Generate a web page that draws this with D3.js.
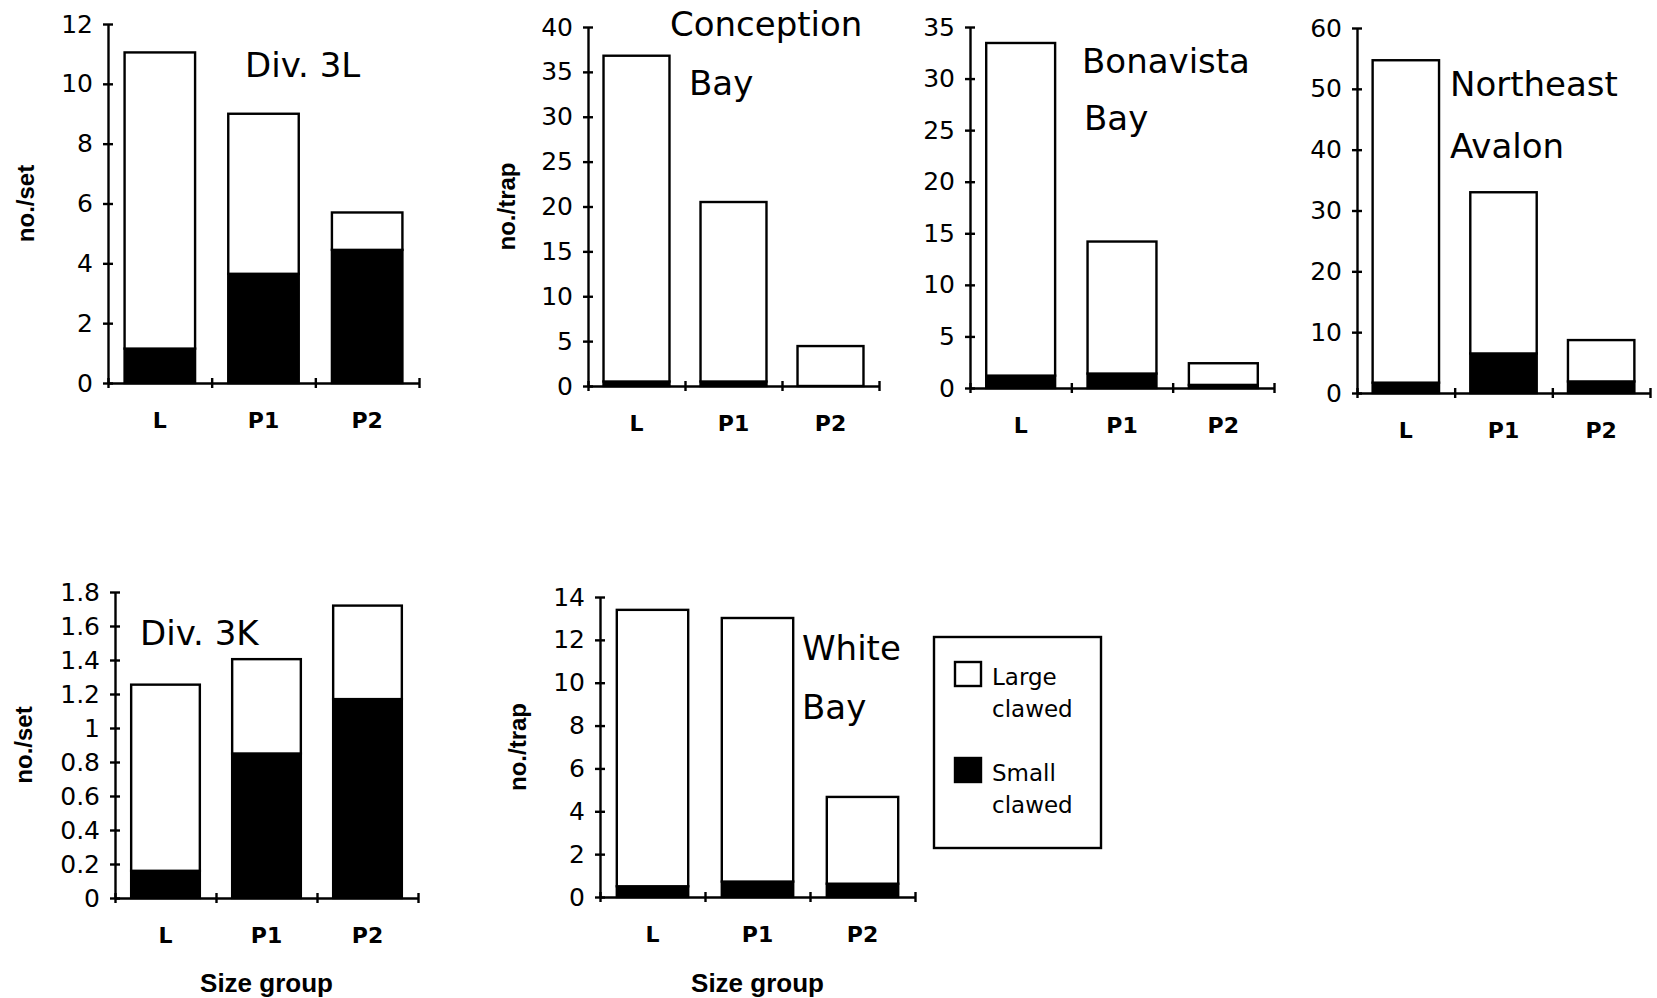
<!DOCTYPE html>
<html>
<head>
<meta charset="utf-8">
<script src="https://cdn.jsdelivr.net/npm/d3@7"></script>
<style>
  body { margin: 0; background: #fff; }
</style>
</head>
<body>
<div id="chart"></div>
<script>
// size groups on every x axis
const sizeGroups = ["L", "P1", "P2"];

// small clawed (black) and large clawed (white, stacked on top) per panel
const div3LSmall = [1.15, 3.65, 4.45];
const div3LLarge = [9.9, 5.35, 1.25];
const conceptionSmall = [0.5, 0.5, 0];
const conceptionLarge = [36.3, 20.0, 4.45];
const bonavistaSmall = [1.2, 1.4, 0.3];
const bonavistaLarge = [32.25, 12.8, 2.1];
const avalonSmall = [1.7, 6.5, 1.9];
const avalonLarge = [53.0, 26.5, 6.8];
const div3KSmall = [0.16, 0.85, 1.17];
const div3KLarge = [1.095, 0.555, 0.55];
const whiteBaySmall = [0.5, 0.72, 0.62];
const whiteBayLarge = [12.9, 12.3, 4.05];

// tick labels
const div3LTicks = [0, 2, 4, 6, 8, 10, 12];
const conceptionTicks = [0, 5, 10, 15, 20, 25, 30, 35, 40];
const bonavistaTicks = [0, 5, 10, 15, 20, 25, 30, 35];
const avalonTicks = [0, 10, 20, 30, 40, 50, 60];
const div3KTicks = [0, 0.2, 0.4, 0.6, 0.8, 1, 1.2, 1.4, 1.6, 1.8];
const whiteBayTicks = [0, 2, 4, 6, 8, 10, 12, 14];

const legendLabels = [["Large", "clawed"], ["Small", "clawed"]];

const panels = [
  { small: div3LSmall, large: div3LLarge, ticks: div3LTicks, title: ["Div. 3L"],
    left: 108, right: 419, top: 24, bottom: 383,
    titleX: 245, titleY: 77, yLabel: "no./set", yLabelX: 27 },
  { small: conceptionSmall, large: conceptionLarge, ticks: conceptionTicks, title: ["Conception", "Bay"],
    left: 588, right: 879, top: 27, bottom: 386,
    titleX: 670, titleY: 36, titleX2: 689, lineGap: 59, yLabel: "no./trap", yLabelX: 508 },
  { small: bonavistaSmall, large: bonavistaLarge, ticks: bonavistaTicks, title: ["Bonavista", "Bay"],
    left: 970, right: 1274, top: 27, bottom: 388,
    titleX: 1082, titleY: 73, titleX2: 1084, lineGap: 57 },
  { small: avalonSmall, large: avalonLarge, ticks: avalonTicks, title: ["Northeast", "Avalon"],
    left: 1357, right: 1650, top: 28, bottom: 393,
    titleX: 1450, titleY: 96, titleX2: 1450, lineGap: 62 },
  { small: div3KSmall, large: div3KLarge, ticks: div3KTicks, title: ["Div. 3K"],
    left: 115, right: 418, top: 592, bottom: 898,
    titleX: 140, titleY: 645, yLabel: "no./set", yLabelX: 25, xTitle: "Size group" },
  { small: whiteBaySmall, large: whiteBayLarge, ticks: whiteBayTicks, title: ["White", "Bay"],
    left: 600, right: 915, top: 597, bottom: 897,
    titleX: 802, titleY: 660, titleX2: 802, lineGap: 59, yLabel: "no./trap", yLabelX: 519, xTitle: "Size group" }
];

const svg = d3.select("#chart")
  .append("svg")
  .attr("width", 1657)
  .attr("height", 998)
  .style("font-family", "Liberation Sans, Arial, sans-serif");

panels.forEach(p => drawPanel(p));
drawLegend();

function drawPanel(p) {
  const rows = sizeGroups.map((g, i) => ({ group: g, small: p.small[i], large: p.large[i] }));
  const series = d3.stack().keys(["small", "large"])(rows);

  const y = d3.scaleLinear()
    .domain([0, d3.max(p.ticks)])
    .range([p.bottom, p.top]);

  const x = d3.scaleBand()
    .domain(sizeGroups)
    .range([p.left, p.right])
    .paddingInner(0.32)
    .paddingOuter(0.16);

  // boundaries between the size groups
  const xEdge = d3.scaleLinear().domain([0, sizeGroups.length]).range([p.left, p.right]);

  const g = svg.append("g");

  g.selectAll(".layer")
    .data(series)
    .enter().append("g")
    .attr("fill", d => d.key === "small" ? "#000" : "#fff")
    .selectAll("rect")
    .data(d => d)
    .enter().append("rect")
    .attr("x", d => x(d.data.group))
    .attr("y", d => y(d[1]))
    .attr("width", x.bandwidth())
    .attr("height", d => y(d[0]) - y(d[1]))
    .attr("stroke", "#000")
    .attr("stroke-width", 2.4);

  // y axis
  const yAxis = g.append("g")
    .attr("transform", "translate(" + p.left + ",0)")
    .call(d3.axisLeft(y).tickValues(p.ticks).tickSize(5).tickSizeOuter(0).tickPadding(10)
      .tickFormat(d3.format("~g")));
  yAxis.selectAll(".tick line").attr("x1", 5);
  yAxis.selectAll("line, path").attr("stroke", "#000").attr("stroke-width", 2.4);
  yAxis.selectAll("text")
    .attr("fill", "#000")
    .style("font-size", "25px")
    .style("font-family", "DejaVu Sans, sans-serif");

  // x axis line with crossing ticks at group edges
  const xAxis = g.append("g")
    .attr("transform", "translate(0," + p.bottom + ")")
    .call(d3.axisBottom(xEdge).tickValues(d3.range(sizeGroups.length + 1)).tickSize(5)
      .tickSizeOuter(0).tickFormat(""));
  xAxis.selectAll(".tick line").attr("y1", -5);
  xAxis.selectAll("line, path").attr("stroke", "#000").attr("stroke-width", 2.4);

  // group labels
  const xLabels = g.append("g")
    .attr("transform", "translate(0," + p.bottom + ")")
    .call(d3.axisBottom(x).tickSize(0).tickPadding(29));
  xLabels.select(".domain").remove();
  xLabels.selectAll("text")
    .attr("fill", "#000")
    .style("font-size", "22px")
    .style("font-weight", "bold")
    .style("font-family", "DejaVu Sans, sans-serif");

  // panel title
  p.title.forEach((t, i) => {
    g.append("text")
      .attr("x", i === 0 ? p.titleX : p.titleX2)
      .attr("y", p.titleY + i * (p.lineGap || 0))
      .style("font-family", "DejaVu Sans, sans-serif")
      .style("font-size", "34px")
      .text(t);
  });

  if (p.yLabel) {
    g.append("text")
      .attr("transform", "translate(" + p.yLabelX + "," + (p.top + p.bottom) / 2 + ") rotate(-90)")
      .attr("dy", "0.3em")
      .attr("text-anchor", "middle")
      .style("font-weight", "bold")
      .style("font-size", "24px")
      .text(p.yLabel);
  }

  if (p.xTitle) {
    g.append("text")
      .attr("x", (p.left + p.right) / 2)
      .attr("y", 983)
      .attr("dy", "0.35em")
      .attr("text-anchor", "middle")
      .style("font-weight", "bold")
      .style("font-size", "26px")
      .text(p.xTitle);
  }
}

function drawLegend() {
  const lg = svg.append("g");
  lg.append("rect")
    .attr("x", 934).attr("y", 637)
    .attr("width", 167).attr("height", 211)
    .attr("fill", "#fff").attr("stroke", "#000").attr("stroke-width", 2.4);

  const items = lg.selectAll(".item")
    .data(legendLabels)
    .enter().append("g")
    .attr("transform", (d, i) => "translate(955," + (662 + i * 96) + ")");

  items.append("rect")
    .attr("width", 26).attr("height", 24)
    .attr("fill", (d, i) => i === 0 ? "#fff" : "#000")
    .attr("stroke", "#000").attr("stroke-width", 2.4);

  items.each(function(d) {
    d.forEach((line, j) => {
      d3.select(this).append("text")
        .attr("x", 37)
        .attr("y", 23 + j * 32)
        .style("font-family", "DejaVu Sans, sans-serif")
        .style("font-size", "23px")
        .text(line);
    });
  });
}
</script>
</body>
</html>
